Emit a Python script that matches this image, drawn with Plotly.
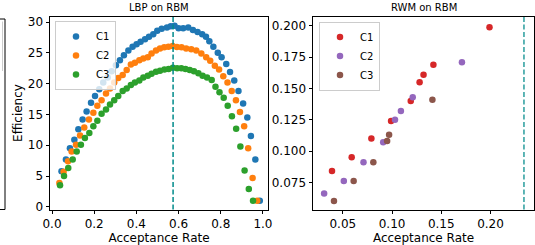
import plotly.graph_objects as go

# ---- LBP on RBM data ----
lbp_c1_x = [0.045, 0.066, 0.085, 0.106, 0.125, 0.145, 0.164, 0.185, 0.204, 0.224, 0.243, 0.264,
            0.283, 0.303, 0.322, 0.341, 0.362, 0.382, 0.401, 0.420, 0.441, 0.460, 0.480, 0.499,
            0.520, 0.545, 0.563, 0.581, 0.600, 0.622, 0.646, 0.668, 0.690, 0.712, 0.730, 0.746,
            0.765, 0.786, 0.804, 0.826, 0.844, 0.864, 0.884, 0.906, 0.926, 0.943, 0.964, 0.985]
lbp_c1_y = [5.8, 7.7, 9.5, 10.9, 12.6, 14.2, 15.5, 16.9, 18.0, 19.1, 20.2, 21.0,
            22.0, 23.0, 23.8, 24.6, 25.4, 26.0, 26.4, 26.8, 27.2, 27.6, 28.0, 28.6,
            28.9, 29.1, 29.3, 29.4, 29.0, 29.0, 29.1, 28.7, 28.4, 28.0, 27.6, 26.9,
            26.0, 25.0, 24.3, 23.2, 21.9, 20.5, 18.8, 16.8, 14.5, 11.5, 7.7, 1.0]

lbp_c2_x = [0.035, 0.055, 0.076, 0.093, 0.114, 0.133, 0.153, 0.175, 0.196, 0.215, 0.235, 0.256,
            0.275, 0.295, 0.314, 0.335, 0.354, 0.374, 0.393, 0.414, 0.433, 0.454, 0.472, 0.493,
            0.512, 0.532, 0.552, 0.572, 0.592, 0.614, 0.636, 0.660, 0.684, 0.708, 0.731, 0.750,
            0.772, 0.792, 0.812, 0.832, 0.852, 0.872, 0.891, 0.911, 0.930, 0.951, 0.973]
lbp_c2_y = [3.9, 5.7, 7.4, 9.0, 10.1, 11.6, 12.9, 14.2, 15.3, 16.4, 17.3, 18.4,
            19.2, 20.2, 20.9, 21.4, 22.2, 23.1, 23.4, 23.8, 24.1, 24.3, 24.9, 25.4,
            25.7, 25.9, 26.0, 26.1, 25.95, 25.9, 25.7, 25.6, 25.4, 24.9, 24.3, 23.7,
            22.9, 22.3, 21.2, 20.2, 18.8, 17.3, 15.4, 13.1, 9.5, 4.7, 1.0]

lbp_c3_x = [0.038, 0.057, 0.077, 0.098, 0.117, 0.137, 0.156, 0.177, 0.196, 0.215, 0.235, 0.256,
            0.275, 0.295, 0.314, 0.335, 0.354, 0.374, 0.393, 0.414, 0.433, 0.454, 0.472, 0.493,
            0.512, 0.533, 0.553, 0.573, 0.593, 0.613, 0.633, 0.653, 0.673, 0.694, 0.714, 0.735,
            0.757, 0.775, 0.794, 0.814, 0.833, 0.853, 0.873, 0.893, 0.913, 0.933, 0.953]
lbp_c3_y = [3.5, 5.0, 6.3, 7.7, 9.0, 10.1, 11.2, 12.0, 13.1, 14.0, 15.1, 15.8,
            16.6, 17.3, 18.0, 18.8, 19.2, 19.8, 20.2, 20.5, 21.0, 21.3, 21.6, 21.95,
            22.1, 22.3, 22.4, 22.6, 22.5, 22.5, 22.4, 22.2, 22.0, 21.7, 21.3, 21.0,
            20.6, 19.5, 18.6, 17.7, 16.4, 14.7, 12.7, 9.8, 5.9, 2.9, 1.0]

lbp_opt = 0.574

# ---- RWM on RBM data ----
rwm_c1_x = [0.039, 0.059, 0.079, 0.099, 0.119, 0.128, 0.132, 0.142, 0.199]
rwm_c1_y = [0.084, 0.095, 0.110, 0.124, 0.140, 0.155, 0.161, 0.169, 0.199]
rwm_c2_x = [0.031, 0.051, 0.071, 0.091, 0.103, 0.109, 0.121, 0.171]
rwm_c2_y = [0.066, 0.076, 0.091, 0.107, 0.125, 0.132, 0.143, 0.171]
rwm_c3_x = [0.041, 0.061, 0.081, 0.095, 0.097, 0.141]
rwm_c3_y = [0.060, 0.076, 0.091, 0.108, 0.113, 0.141]

rwm_opt = 0.234

series_names = ["C1", "C2", "C3"]
lbp_colors = ["#1f77b4", "#ff7f0e", "#2ca02c"]
rwm_colors = ["#d62728", "#9467bd", "#8c564b"]

W, H = 535, 245
def px(x):
    return x / W
def py(y):
    return 1 - y / H

FONT = "DejaVu Sans"
MS = 6.5

fig = go.Figure()
for name, xs, ys, c in zip(series_names, [lbp_c1_x, lbp_c2_x, lbp_c3_x],
                           [lbp_c1_y, lbp_c2_y, lbp_c3_y], lbp_colors):
    fig.add_trace(go.Scatter(x=xs, y=ys, mode="markers", name=name,
                             marker=dict(color=c, size=MS), xaxis="x", yaxis="y",
                             legend="legend"))
for name, xs, ys, c in zip(series_names, [rwm_c1_x, rwm_c2_x, rwm_c3_x],
                           [rwm_c1_y, rwm_c2_y, rwm_c3_y], rwm_colors):
    fig.add_trace(go.Scatter(x=xs, y=ys, mode="markers", name=name,
                             marker=dict(color=c, size=MS), xaxis="x2", yaxis="y2",
                             legend="legend2"))

axis_common = dict(showline=True, linecolor="black", linewidth=1, mirror=True,
                   ticks="outside", ticklen=3.5, tickwidth=1, tickcolor="black",
                   showgrid=False, zeroline=False, automargin=False,
                   tickfont=dict(family=FONT, size=12, color="black"))

ydom = [py(209.5), py(16.5)]
fig.update_layout(
    width=W, height=H, autosize=False,
    margin=dict(l=0, r=0, t=0, b=0, pad=0, autoexpand=False),
    paper_bgcolor="white", plot_bgcolor="white",
    font=dict(family=FONT, size=12, color="black"),
    xaxis=dict(domain=[px(50), px(268)], range=[-0.0095, 1.024], dtick=0.2, tick0=0,
               tickformat=".1f", anchor="y",
               title=dict(text="Acceptance Rate", standoff=3,
                          font=dict(family=FONT, size=12, color="black")), **axis_common),
    yaxis=dict(domain=ydom, range=[-0.42, 30.9], dtick=5, tick0=0, anchor="x",
               title=dict(text="Efficiency", standoff=2,
                          font=dict(family=FONT, size=12, color="black")), **axis_common),
    xaxis2=dict(domain=[px(313), px(534)], range=[0.0197, 0.2442], dtick=0.05, tick0=0,
                tickformat=".2f", anchor="y2",
                title=dict(text="Acceptance Rate", standoff=3,
                           font=dict(family=FONT, size=12, color="black")), **axis_common),
    yaxis2=dict(domain=ydom, range=[0.0533, 0.2075], dtick=0.025, tick0=0,
                tickformat=".3f", anchor="x2", **axis_common),
    legend=dict(x=px(55), y=py(21), xanchor="left", yanchor="top",
                bgcolor="rgba(255,255,255,0.8)", bordercolor="#cccccc", borderwidth=1,
                font=dict(family=FONT, size=10, color="black"), tracegroupgap=0,
                itemwidth=30),
    legend2=dict(x=px(319), y=py(21.5), xanchor="left", yanchor="top",
                 bgcolor="rgba(255,255,255,0.8)", bordercolor="#cccccc", borderwidth=1,
                 font=dict(family=FONT, size=10, color="black"), tracegroupgap=0,
                 itemwidth=30),
    showlegend=True,
)

# optimal acceptance-rate reference lines
fig.add_shape(type="line", xref="x", yref="y domain", x0=lbp_opt, x1=lbp_opt, y0=0, y1=1,
              line=dict(color="#008b8b", width=1.5, dash="5px,2.5px"))
fig.add_shape(type="line", xref="x2", yref="y2 domain", x0=rwm_opt, x1=rwm_opt, y0=0, y1=1,
              line=dict(color="#2a9d9d", width=1.5, dash="5px,2.5px"))

# subplot titles
fig.add_annotation(text="LBP on RBM", xref="paper", yref="paper",
                   x=px(159), y=py(16.5), xanchor="center", yanchor="bottom", yshift=2,
                   showarrow=False, font=dict(family=FONT, size=10, color="black"))
fig.add_annotation(text="RWM on RBM", xref="paper", yref="paper",
                   x=px(423.5), y=py(16.5), xanchor="center", yanchor="bottom", yshift=2,
                   showarrow=False, font=dict(family=FONT, size=10, color="black"))

# edge of the neighbouring (cropped) panel at the far left
fig.add_shape(type="line", xref="paper", yref="paper", x0=px(5), x1=px(5),
              y0=py(209.5), y1=py(19), line=dict(color="black", width=1))
fig.add_shape(type="line", xref="paper", yref="paper", x0=0, x1=px(5),
              y0=py(19), y1=py(19), line=dict(color="black", width=1))
fig.add_shape(type="line", xref="paper", yref="paper", x0=0, x1=px(5),
              y0=py(209.5), y1=py(209.5), line=dict(color="black", width=1))
fig.add_shape(type="line", xref="paper", yref="paper", x0=px(2.5), x1=px(2.5),
              y0=py(71), y1=py(21.5), line=dict(color="#cccccc", width=1))

fig.write_html("out.html",
               config={"displayModeBar": False, "responsive": False},
               post_script="document.body.style.margin='0';document.body.style.overflow='hidden';")
